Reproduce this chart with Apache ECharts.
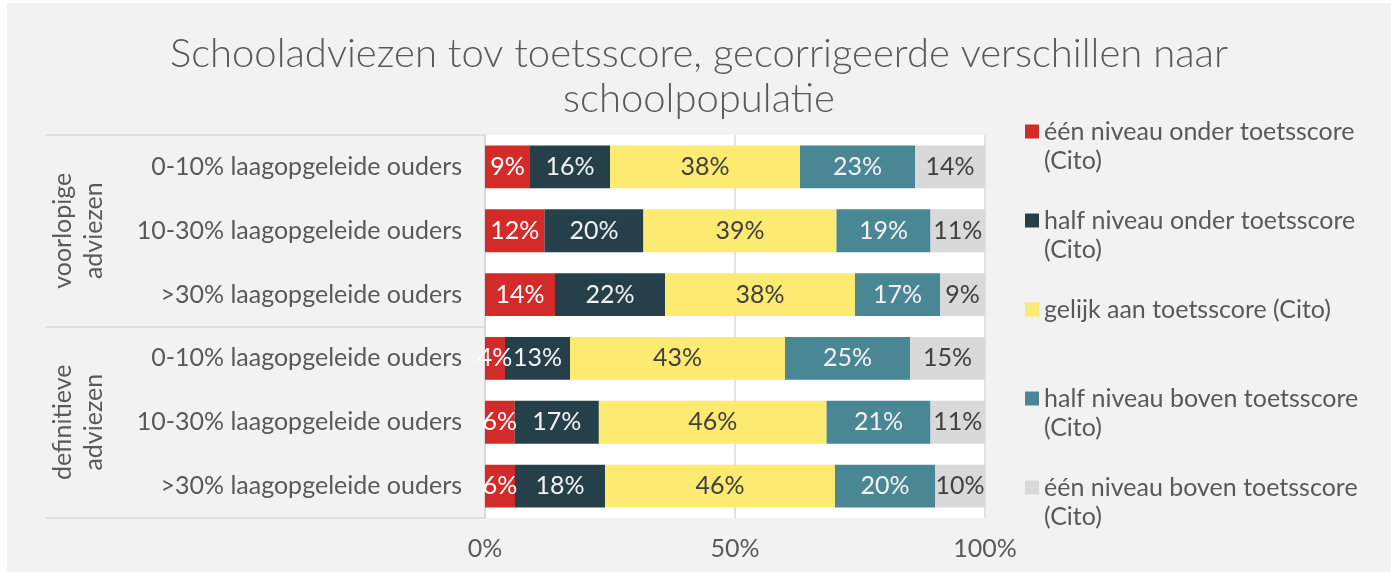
<!DOCTYPE html>
<html lang="nl">
<head>
<meta charset="UTF-8">
<title>Schooladviezen tov toetsscore</title>
<script src="https://cdn.jsdelivr.net/npm/echarts@6/dist/echarts.min.js"></script>
<style>
  html, body { margin: 0; padding: 0; background: #ffffff; }
  #main { position: absolute; left: 7px; top: 3px; width: 1384px; height: 569px; }
</style>
</head>
<body>
<div id="main"></div>
<script>
  // categorieën (van boven naar beneden)
  const groups = ['voorlopige\nadviezen', 'definitieve\nadviezen'];
  const rows = [
    '0-10% laagopgeleide ouders',
    '10-30% laagopgeleide ouders',
    '>30% laagopgeleide ouders',
    '0-10% laagopgeleide ouders',
    '10-30% laagopgeleide ouders',
    '>30% laagopgeleide ouders'
  ];
  const seriesNames = [
    'één niveau onder toetsscore (Cito)',
    'half niveau onder toetsscore (Cito)',
    'gelijk aan toetsscore (Cito)',
    'half niveau boven toetsscore (Cito)',
    'één niveau boven toetsscore (Cito)'
  ];
  // percentages zoals in de labels
  const eenOnder = [9, 12, 14, 4, 6, 6];
  const halfOnder = [16, 20, 22, 13, 17, 18];
  const gelijk = [38, 39, 38, 43, 46, 46];
  const halfBoven = [23, 19, 17, 25, 21, 20];
  const eenBoven = [14, 11, 9, 15, 11, 10];
  const xTicks = [0, 50, 100];

  const values = [eenOnder, halfOnder, gelijk, halfBoven, eenBoven];
  const colors = ['#d32a2a', '#264049', '#fdea70', '#4a8794', '#d9d9d9'];
  const labelColors = ['#ffffff', '#f2f2f2', '#404040', '#f2f2f2', '#404040'];
  const font = 'Lato, "Noto Sans", sans-serif';
  const fs = 25;

  // 100% gestapeld: per rij normaliseren
  const totals = rows.map((r, i) => values.reduce((s, v) => s + v[i], 0));

  const series = values.map((arr, k) => ({
    name: seriesNames[k],
    type: 'bar',
    stack: 'totaal',
    yAxisIndex: 0,
    barCategoryGap: '33%',
    itemStyle: { color: colors[k] },
    label: {
      show: true,
      position: 'inside',
      color: labelColors[k],
      fontFamily: font,
      fontSize: fs,
      formatter: p => arr[p.dataIndex] + '%'
    },
    data: arr.map((v, i) => v / totals[i] * 100)
  }));

  const myChart = echarts.init(document.getElementById('main'));
  myChart.setOption({
    backgroundColor: '#f2f2f2',
    animation: false,
    title: {
      text: 'Schooladviezen tov toetsscore, gecorrigeerde verschillen naar\nschoolpopulatie',
      left: 'center',
      top: 29,
      padding: [0, 0, 0, 6],
      textStyle: {
        fontFamily: font,
        fontWeight: 300,
        fontSize: 40,
        lineHeight: 45,
        color: '#595959'
      }
    },
    legend: {
      orient: 'vertical',
      left: 1018,
      top: 114,
      padding: 0,
      itemGap: 30,
      itemWidth: 14,
      itemHeight: 44,
      // vierkantje bovenaan, zodat het bij de eerste tekstregel staat
      icon: 'path://M0,0h14v14h-14z M0,44h14',
      itemStyle: { borderWidth: 0 },
      data: seriesNames,
      formatter: n => n.length > 30 ? n.replace(' (Cito)', '\n(Cito)') : n + '\n ',
      textStyle: {
        fontFamily: font,
        fontSize: fs,
        lineHeight: 29.5,
        color: '#595959'
      }
    },
    grid: {
      left: 478,
      right: 406,
      top: 132,
      bottom: 54,
      show: true,
      backgroundColor: '#ffffff',
      borderWidth: 0
    },
    xAxis: {
      type: 'value',
      min: xTicks[0],
      max: xTicks[xTicks.length - 1],
      interval: xTicks[1] - xTicks[0],
      axisLine: { show: false },
      axisTick: { show: false },
      splitLine: { show: true, lineStyle: { color: '#d9d9d9', width: 1.5 } },
      axisLabel: {
        formatter: '{value}%',
        margin: 18,
        fontFamily: font,
        fontSize: fs,
        color: '#595959'
      }
    },
    yAxis: [
      {
        type: 'category',
        data: rows,
        inverse: true,
        axisLine: { show: false },
        axisTick: { show: false },
        axisLabel: {
          margin: 23,
          fontFamily: font,
          fontSize: fs,
          color: '#595959'
        }
      },
      {
        type: 'category',
        data: groups,
        inverse: true,
        position: 'left',
        axisLine: { show: true, lineStyle: { color: '#d9d9d9', width: 1.5 } },
        axisTick: { show: true, length: 440, lineStyle: { color: '#d9d9d9', width: 1.5 } },
        axisLabel: {
          rotate: 90,
          margin: 376,
          fontFamily: font,
          fontSize: fs,
          lineHeight: 31,
          color: '#595959'
        }
      }
    ],
    series: series
  });
</script>
</body>
</html>
